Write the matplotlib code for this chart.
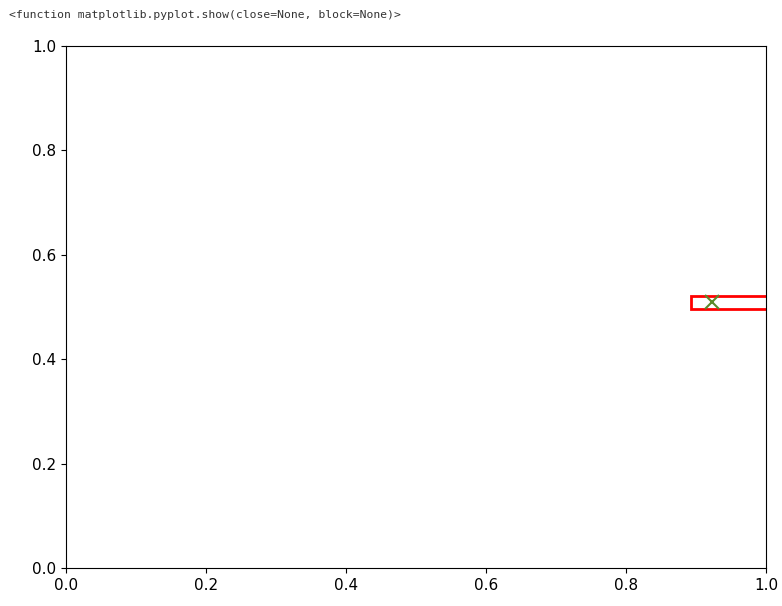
import matplotlib
matplotlib.use("Agg")
import matplotlib.pyplot as plt
from matplotlib.patches import Rectangle

# data
rect_xy = (0.893, 0.497)
rect_w = 0.12
rect_h = 0.024
point_x = [0.923]
point_y = [0.510]
header = "<function matplotlib.pyplot.show(close=None, block=None)>"

fig = plt.figure(figsize=(7.82, 6.06), dpi=100)
ax = fig.add_axes([0.0844, 0.0627, 0.8951, 0.8613])
ax.set_xlim(0, 1)
ax.set_ylim(0, 1)
ax.add_patch(Rectangle(rect_xy, rect_w, rect_h, fill=False, edgecolor="red", linewidth=2, clip_on=True))
ax.plot(point_x, point_y, marker="x", color="#5a8a2a", markersize=10, markeredgewidth=1.5, linestyle="none")
ax.tick_params(labelsize=11)
fig.text(0.011, 0.975, header, family="DejaVu Sans Mono", fontsize=8.2, color="#333333", va="center")
fig.savefig("out.png", dpi=100)
